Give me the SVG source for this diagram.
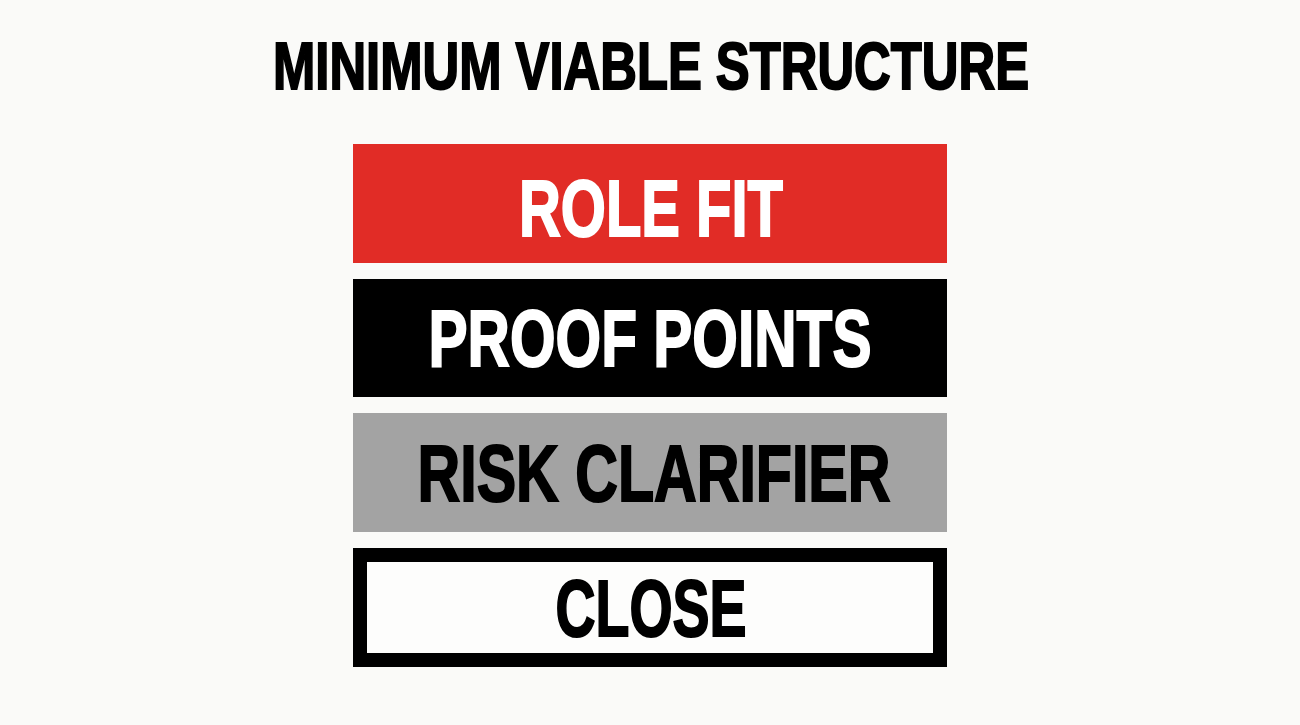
<svg xmlns="http://www.w3.org/2000/svg" width="1300" height="725" viewBox="0 0 1300 725">
<style>
.t{font-family:"Liberation Sans",Arial,sans-serif;font-weight:bold;text-anchor:middle;stroke-width:2;stroke-linejoin:miter}
.lbl{font-size:80px}
.w{fill:#fff;stroke:#fff}
.k{fill:#000;stroke:#000}
</style>
<rect width="1300" height="725" fill="#fafaf8"/>
<text class="t k" x="651" y="89" font-size="67" textLength="756" lengthAdjust="spacingAndGlyphs">MINIMUM VIABLE STRUCTURE</text>
<g id="role-fit">
<rect x="353" y="144" width="594" height="119" fill="#e12c26"/>
<text class="t lbl w" x="651" y="236" textLength="264" lengthAdjust="spacingAndGlyphs">ROLE FIT</text>
</g>
<g id="proof-points">
<rect x="353" y="279" width="594" height="118" fill="#000"/>
<text class="t lbl w" x="650" y="366" textLength="443" lengthAdjust="spacingAndGlyphs">PROOF POINTS</text>
</g>
<g id="risk-clarifier">
<rect x="353" y="413" width="594" height="119" fill="#a3a3a3"/>
<text class="t lbl k" x="654" y="501" textLength="473" lengthAdjust="spacingAndGlyphs">RISK CLARIFIER</text>
</g>
<g id="close">
<rect x="360" y="555" width="580" height="105" fill="#fdfdfc" stroke="#000" stroke-width="14"/>
<text class="t lbl k" x="651" y="636" textLength="191" lengthAdjust="spacingAndGlyphs">CLOSE</text>
</g>
<g id="connectors"/>
</svg>
